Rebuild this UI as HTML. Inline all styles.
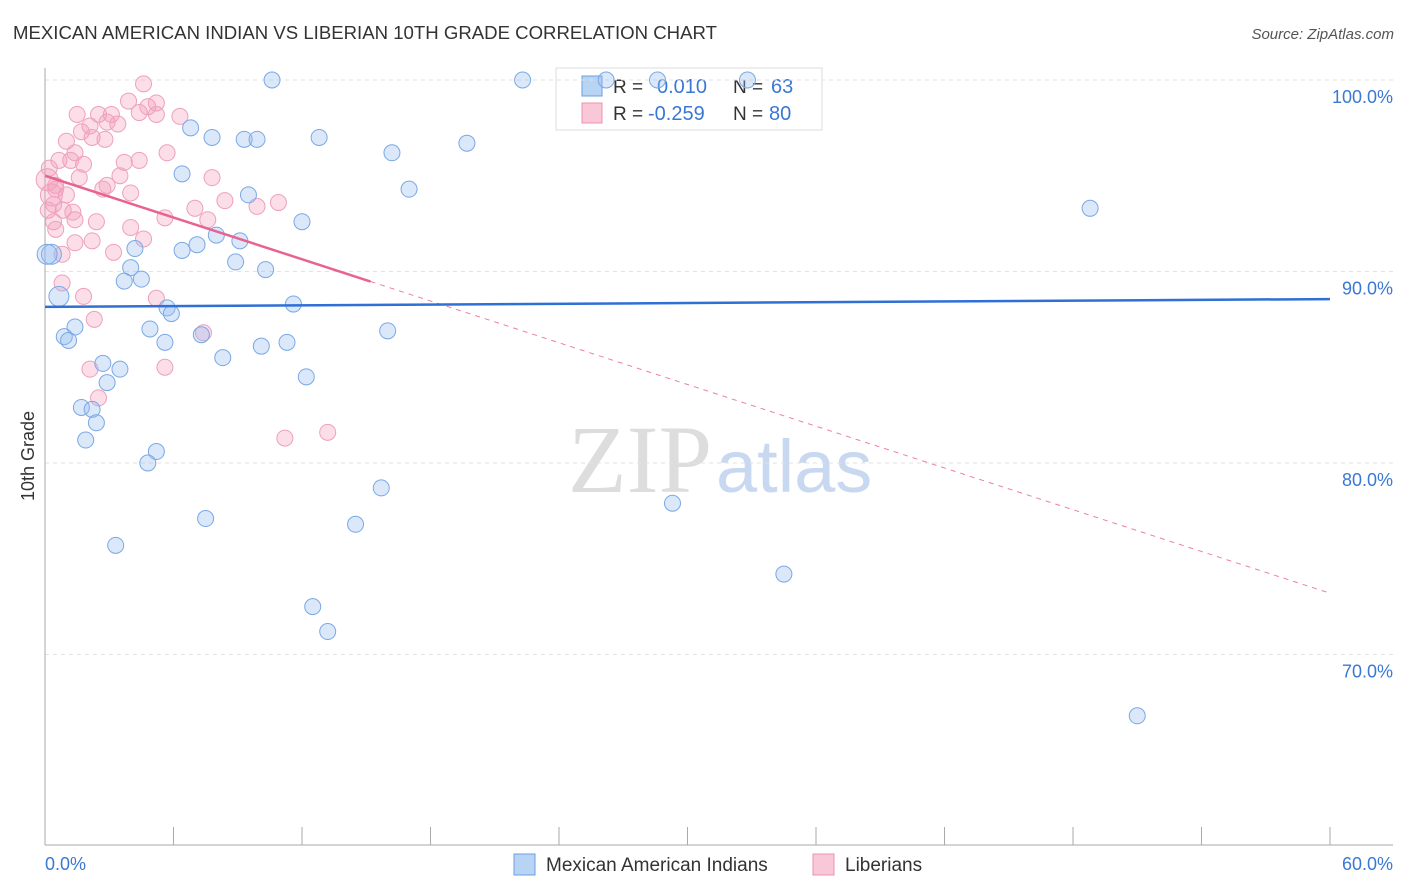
<!DOCTYPE html>
<html><head><meta charset="utf-8">
<style>
body{margin:0;background:#fff;font-family:"Liberation Sans",sans-serif;}
svg{display:block}
</style></head>
<body>
<svg id="chart" width="1406" height="892">
<text x="13" y="39" font-size="18.6" fill="#333">MEXICAN AMERICAN INDIAN VS LIBERIAN 10TH GRADE CORRELATION CHART</text>
<text x="1394" y="39" font-size="15" fill="#555" font-style="italic" text-anchor="end">Source: ZipAtlas.com</text>
<text x="712" y="492" font-size="96" fill="#ddd" text-anchor="end" font-family="Liberation Serif,serif">ZIP</text>
<text x="716" y="492" font-size="74" fill="#c8d8f0">atlas</text>
<g>
<rect x="556" y="68" width="266" height="62" fill="#fff" stroke="#ddd"/>
<rect x="582" y="76" width="20" height="20" fill="#b8d4f5" stroke="#6a9fe0"/>
<rect x="582" y="103" width="20" height="20" fill="#f9c8d8" stroke="#ec90b0"/>
<text x="613" y="93" font-size="19" fill="#333">R =</text><text x="657" y="93" font-size="20" fill="#3a78d4">0.010</text>
<text x="733" y="93" font-size="19" fill="#333">N =</text><text x="771" y="93" font-size="20" fill="#3a78d4">63</text>
<text x="613" y="120" font-size="19" fill="#333">R =</text><text x="648" y="120" font-size="20" fill="#3a78d4">-0.259</text>
<text x="733" y="120" font-size="19" fill="#333">N =</text><text x="769" y="120" font-size="20" fill="#3a78d4">80</text>
</g>
<g id="grid"></g>
<g id="axes"></g>
<g id="marks"></g>
<text transform="translate(34,456) rotate(-90)" font-size="18" fill="#333" text-anchor="middle">10th Grade</text>
<g>
<rect x="514" y="854" width="21" height="21" fill="#b8d4f5" stroke="#6a9fe0"/>
<text x="546" y="871" font-size="19" fill="#333">Mexican American Indians</text>
<rect x="813" y="854" width="21" height="21" fill="#f9c8d8" stroke="#ec90b0"/>
<text x="845" y="871" font-size="19" fill="#333">Liberians</text>
</g>
</svg>
<script>
const blueX=[10.6,22.3,26.2,28.6,32.8,6.8,7.8,9.3,9.9,12.8,19.7,16.2,6.4,17.0,9.5,12.0,48.8,8.0,9.1,7.1,6.4,4.2,8.9,4.0,10.3,3.7,4.5,0.3,0.65,11.6,5.7,5.9,1.4,4.9,0.9,1.1,16.0,7.3,5.6,10.1,11.3,8.3,2.7,3.5,12.2,2.9,1.7,2.2,2.4,1.9,5.2,4.8,15.7,29.3,7.5,14.5,3.3,34.5,12.5,13.2,51.0,0.1];
const blueY=[100,100,100,100,100,97.5,97.0,96.9,96.9,97.0,96.7,96.2,95.1,94.3,94.0,92.6,93.3,91.9,91.6,91.4,91.1,91.2,90.5,90.2,90.1,89.5,89.6,90.9,88.7,88.3,88.1,87.8,87.1,87.0,86.6,86.4,86.9,86.7,86.3,86.1,86.3,85.5,85.2,84.9,84.5,84.2,82.9,82.8,82.1,81.2,80.6,80.0,78.7,77.9,77.1,76.8,75.7,74.2,72.5,71.2,66.8,90.9];
const pinkX=[4.6,3.9,5.2,4.8,5.2,1.5,2.5,3.1,4.4,6.3,2.1,2.9,3.4,1.7,2.2,1.0,2.8,1.4,5.7,0.65,1.2,3.7,4.4,1.8,0.2,3.5,7.8,1.6,2.9,0.5,2.7,4.0,0.5,8.4,1.0,10.9,7.0,0.4,0.15,1.3,9.9,0.85,5.6,1.4,2.4,7.6,4.0,0.4,4.6,2.2,1.4,3.2,0.8,0.8,1.8,5.2,2.3,7.4,2.1,5.6,2.5,11.2,13.2,0.3,0.1,0.5];
const pinkY=[99.8,98.9,98.8,98.6,98.2,98.2,98.2,98.2,98.3,98.1,97.6,97.8,97.7,97.3,97.0,96.8,96.9,96.2,96.2,95.8,95.8,95.7,95.8,95.6,95.4,95.0,94.9,94.9,94.5,94.5,94.3,94.1,94.3,93.7,94.0,93.6,93.3,93.5,93.2,93.1,93.4,93.2,92.8,92.7,92.6,92.7,92.3,92.6,91.7,91.6,91.5,91.0,90.9,89.4,88.7,88.6,87.5,86.8,84.9,85.0,83.4,81.3,81.6,94.0,94.8,92.2];
const blueTrend=[88.15,88.56];
const pinkTrend=[95.0,73.2];
const pinkSolidEnd=15.2;
const yTicks=[100,90,80,70];
const xTickLabels=["0.0%","60.0%"];

const NS="http://www.w3.org/2000/svg";
const sx=v=>45+v/60*1285;
const sy=v=>80+(100-v)*19.15;
function mk(tag,attrs,parent){const e=document.createElementNS(NS,tag);for(const k in attrs)e.setAttribute(k,attrs[k]);parent.appendChild(e);return e;}
const grid=document.getElementById('grid'),axes=document.getElementById('axes'),marks=document.getElementById('marks');
yTicks.forEach(t=>{
  const l=mk('line',{x1:45,x2:1393,y1:sy(t),y2:sy(t),stroke:'#e2e2e2','stroke-dasharray':'4,4'},grid);
  
  
  const tx=mk('text',{x:1393,y:sy(t)+23,'font-size':18,fill:'#3a78d4','text-anchor':'end'},grid);
  tx.textContent=t.toFixed(1)+'%';
  
  
});
const ya=mk('line',{x1:45,x2:45,y1:68,y2:845,stroke:'#aaa'},axes);


const xa=mk('line',{x1:45,x2:1393,y1:845,y2:845,stroke:'#aaa'},axes);


for(let i=0;i<=10;i++){
  const t=mk('line',{x1:sx(i*6),x2:sx(i*6),y1:827,y2:845,stroke:'#aaa'},axes);
  
  
}
[[0,'start',45],[60,'end',1393]].forEach((d,i)=>{
  const t=mk('text',{x:d[2],y:870,'font-size':18,fill:'#3a78d4','text-anchor':d[1]},axes);
  t.textContent=xTickLabels[i];
  
  
});
pinkX.forEach((x,i)=>{
  const c=mk('circle',{cx:sx(x),cy:sy(pinkY[i]),r:(x<0.4&&pinkY[i]>93.9&&pinkY[i]<94.9)?11:8,fill:'rgba(244,160,190,0.35)',stroke:'#eea0bc','stroke-width':1},marks);
  
  
});
blueX.forEach((x,i)=>{
  const c=mk('circle',{cx:sx(x),cy:sy(blueY[i]),r:(x<0.7&&blueY[i]<91)?10:8,fill:'rgba(150,190,240,0.35)',stroke:'#7aa8e6','stroke-width':1},marks);
  
  
});
const pAt=v=>pinkTrend[0]+(pinkTrend[1]-pinkTrend[0])*v/60;
const pd=mk('line',{x1:sx(pinkSolidEnd),y1:sy(pAt(pinkSolidEnd)),x2:sx(60),y2:sy(pinkTrend[1]),stroke:'#ec7fa5','stroke-width':1,'stroke-dasharray':'5,5'},marks);


const ps=mk('line',{x1:sx(0),y1:sy(pinkTrend[0]),x2:sx(pinkSolidEnd),y2:sy(pAt(pinkSolidEnd)),stroke:'#e8648f','stroke-width':2.5},marks);


const bl=mk('line',{x1:sx(0),y1:sy(blueTrend[0]),x2:sx(60),y2:sy(blueTrend[1]),stroke:'#2f6fd6','stroke-width':2.5},marks);


</script>
</body></html>
